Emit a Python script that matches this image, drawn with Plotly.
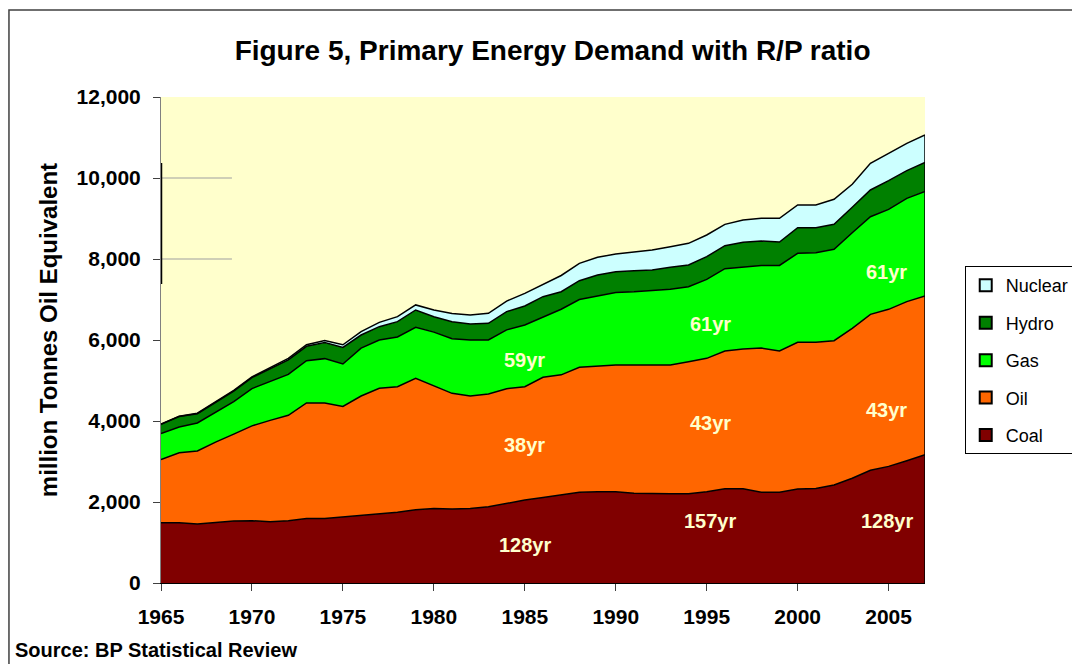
import plotly.graph_objects as go

years = list(range(1965, 2008))

# million tonnes oil equivalent
coal = [1490, 1490, 1455, 1490, 1530, 1540, 1510, 1540, 1590, 1590, 1630, 1670, 1710, 1745, 1810,
        1840, 1830, 1840, 1880, 1960, 2050, 2110, 2170, 2240, 2255, 2255, 2215, 2205, 2205, 2205,
        2255, 2325, 2325, 2240, 2240, 2320, 2335, 2420, 2585, 2785, 2880, 3020, 3170]
oil = [1560, 1725, 1805, 1990, 2145, 2340, 2505, 2600, 2855, 2855, 2730, 2947, 3097, 3103, 3243,
       3024, 2853, 2777, 2787, 2838, 2798, 2970, 2970, 3085, 3105, 3128, 3168, 3178, 3178, 3260,
       3292, 3403, 3453, 3562, 3488, 3622, 3607, 3564, 3703, 3849, 3877, 3927, 3916]
gas = [640, 635, 690, 735, 802, 920, 956, 1010, 1045, 1095, 1047, 1183, 1193, 1227, 1262,
       1331, 1347, 1383, 1333, 1452, 1522, 1480, 1620, 1675, 1735, 1792, 1807, 1842, 1872, 1852,
       1951, 2032, 2022, 2038, 2112, 2198, 2214, 2255, 2362, 2411, 2469, 2551, 2584]
hydro = [230, 260, 230, 235, 263, 270, 319, 360, 355, 395, 408, 323, 329, 378, 426,
         381, 423, 395, 412, 450, 469, 510, 433, 465, 510, 512, 522, 503, 539, 535,
         560, 569, 612, 604, 580, 634, 618, 617, 626, 659, 708, 683, 717]
nuclear = [6, 10, 12, 15, 17, 20, 25, 35, 40, 52, 68, 85, 107, 123, 125,
           165, 200, 222, 246, 260, 313, 300, 400, 428, 436, 436, 453, 494, 511, 535,
           535, 527, 551, 560, 584, 559, 559, 617, 570, 658, 675, 675, 675]

series_names = ["Coal", "Oil", "Gas", "Hydro", "Nuclear"]
series_colors = ["#800000", "#FF6600", "#00FF00", "#008000", "#CCFFFF"]

# R/P ratio labels: (year, value, text)
rp_years = [1985, 1985, 1985, 1995.2, 1995.2, 1995.2, 2004.9, 2004.9, 2004.9]
rp_values = [940, 3400, 5500, 1530, 3950, 6400, 1530, 4270, 7680]
rp_text = ["128yr", "38yr", "59yr", "157yr", "43yr", "61yr", "128yr", "43yr", "61yr"]

FONT = "Arial, Liberation Sans, sans-serif"

fig = go.Figure()
for name, vals, col in zip(series_names, [coal, oil, gas, hydro, nuclear], series_colors):
    fig.add_trace(go.Scatter(x=years, y=vals, name=name, stackgroup="one", mode="lines",
                             line=dict(color="black", width=1.5), fillcolor=col,
                             showlegend=False, hoverinfo="x+y+name"))

# square legend swatches like the original, top entry = Nuclear
for name, col in reversed(list(zip(series_names, series_colors))):
    fig.add_trace(go.Scatter(x=[None], y=[None], name=name, mode="markers", legendgroup=name,
                             marker=dict(symbol="square", size=12, color=col,
                                         line=dict(color="black", width=1))))

for x, y, t in zip(rp_years, rp_values, rp_text):
    fig.add_annotation(x=x, y=y, text="<b>%s</b>" % t, showarrow=False,
                       font=dict(family=FONT, size=20, color="#FFFFCC"))

total_last = coal[-1] + oil[-1] + gas[-1] + hydro[-1] + nuclear[-1]

# page has an 8px body margin, so the figure is 8px smaller than the window
fig.update_layout(
    width=1072, height=656,
    margin=dict(l=153, r=155, t=89, b=81, autoexpand=False),
    paper_bgcolor="white",
    plot_bgcolor="#FFFFCC",
    font=dict(family=FONT, color="black"),
    title=dict(text="<b>Figure 5, Primary Energy Demand with R/P ratio</b>",
               x=0.508, xref="container", xanchor="center",
               y=1 - 42 / 656, yref="container", yanchor="middle",
               font=dict(family=FONT, size=28, color="black")),
    legend=dict(x=1.052, y=0.652, xanchor="left", yanchor="top",
                bgcolor="white", bordercolor="black", borderwidth=1,
                font=dict(family=FONT, size=18, color="black"),
                traceorder="grouped", tracegroupgap=11,
                itemsizing="constant"),
    showlegend=True,
    shapes=[
        # chart frame
        dict(type="rect", xref="paper", yref="paper", x0=-0.1990, x1=1.23, y0=-0.25, y1=1.179,
             line=dict(color="#404040", width=1.5), fillcolor="rgba(0,0,0,0)", layer="below"),
        # right edge of the stacked areas
        dict(type="line", xref="x", yref="y", x0=years[-1], x1=years[-1], y0=0, y1=total_last,
             line=dict(color="black", width=1.5)),
        # stray gridline stubs and axis mark from the original
        dict(type="line", xref="x", yref="y", x0=1965, x1=1968.9, y0=10000, y1=10000,
             line=dict(color="#A0A0A0", width=1.2)),
        dict(type="line", xref="x", yref="y", x0=1965, x1=1968.9, y0=8000, y1=8000,
             line=dict(color="#A0A0A0", width=1.2)),
        dict(type="line", xref="x", yref="y", x0=1965, x1=1965, y0=7380, y1=10370,
             line=dict(color="black", width=2.5)),
    ],
)

fig.update_xaxes(range=[1965, 2007], tickvals=list(range(1965, 2006, 5)), tickformat="d",
                 showgrid=False, zeroline=False, showline=True, linecolor="black", linewidth=1,
                 ticks="outside", ticklen=7, tickcolor="#404040", ticklabelstandoff=8,
                 tickfont=dict(family=FONT, size=21, color="black", weight="bold"))
fig.update_yaxes(range=[0, 12000], dtick=2000, tickformat=",d",
                 showgrid=False, zeroline=False, showline=True, linecolor="#808080", linewidth=1,
                 ticks="outside", ticklen=7, tickcolor="#404040", ticklabelstandoff=8,
                 tickfont=dict(family=FONT, size=21, color="black", weight="bold"))

fig.add_annotation(text="<b>million Tonnes Oil Equivalent</b>", textangle=-90,
                   xref="paper", yref="paper", x=-0.148, y=0.52, showarrow=False,
                   xanchor="center", yanchor="middle",
                   font=dict(family=FONT, size=24, color="black"))
fig.add_annotation(text="<b>Source: BP Statistical Review</b>", xref="paper", yref="paper",
                   x=-0.1937, y=-0.138, xanchor="left", yanchor="middle", showarrow=False,
                   font=dict(family=FONT, size=20, color="black"))

fig.write_html("out.html")
